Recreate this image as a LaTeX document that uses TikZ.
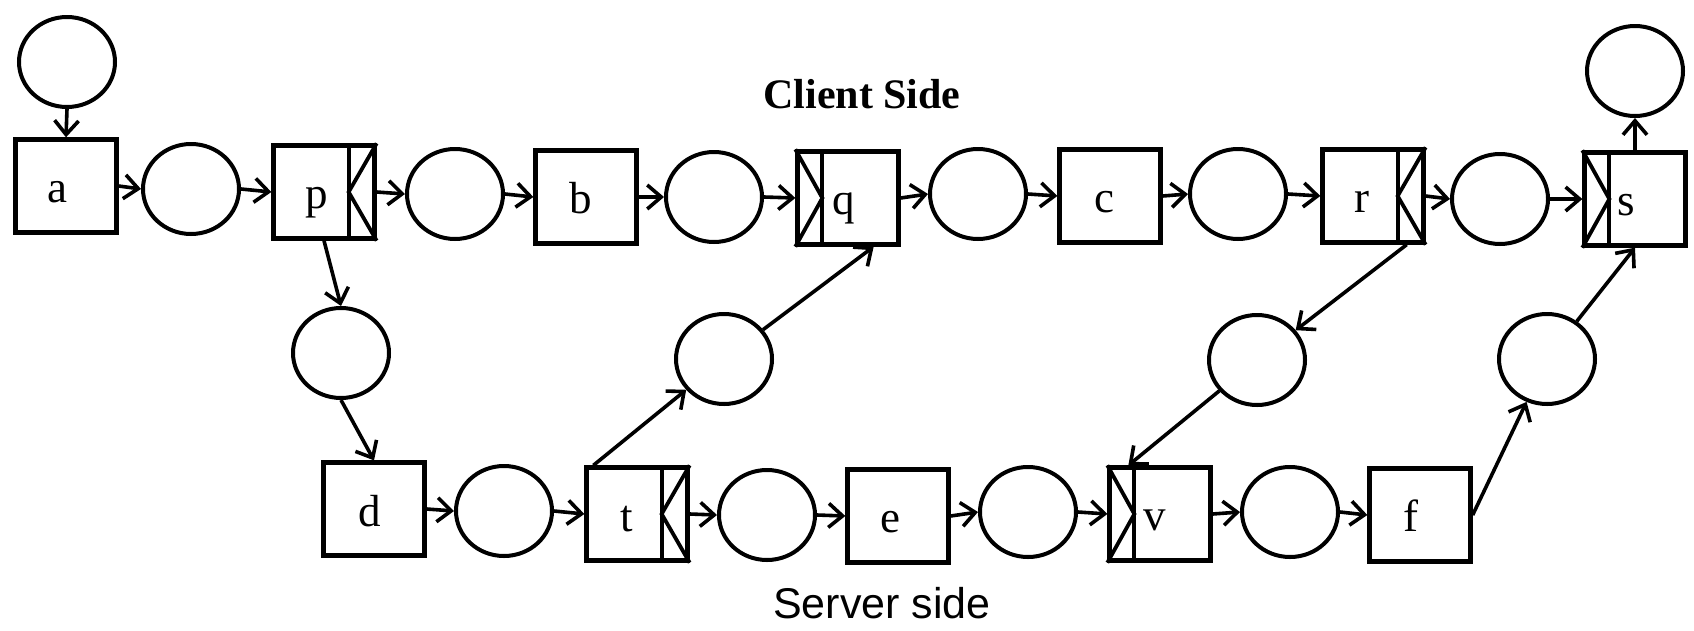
\documentclass[tikz,border=0pt]{standalone}
\usepackage{fontspec}
\setmainfont{Liberation Serif}
\newfontfamily\sansf{Liberation Sans}
\usetikzlibrary{arrows.meta,shapes.geometric,calc}
\begin{document}
\begin{tikzpicture}[x=1pt,y=-1pt,
  place/.style={draw,ellipse,line width=4pt,minimum width=96pt,minimum height=90pt,inner sep=0pt},
  trans/.style={draw,rectangle,line width=4.3pt,minimum width=101pt,minimum height=93pt,inner sep=0pt},
  strip/.style={line width=3.8pt},
  lbl/.style={anchor=base,inner sep=0pt,font=\fontsize{45}{50}\selectfont},
  arc/.style={line width=3.6pt,-{Straight Barb[length=14pt,width=24pt]}}]
\useasboundingbox (0,0) rectangle (1694,630);
% places
\node[place] (tl) at (67,62) {};
\node[place] (c1) at (191,189) {};
\node[place] (c2) at (455,194) {};
\node[place] (c3) at (714,197) {};
\node[place] (c4) at (978,194) {};
\node[place] (c5) at (1238,194) {};
\node[place] (c6) at (1500,199) {};
\node[place] (tr) at (1635,71) {};
\node[place] (m1) at (341,353) {};
\node[place] (m2) at (724,359) {};
\node[place] (m3) at (1257,360) {};
\node[place] (m4) at (1547,359) {};
\node[place] (c7) at (504,511) {};
\node[place] (c8) at (767,515) {};
\node[place] (c9) at (1028,512) {};
\node[place] (c10) at (1290,512) {};
% transitions
\node[trans] (a) at (66,186) {};
\node[trans] (p) at (324,192) {};
\node[trans] (b) at (586,197) {};
\node[trans] (q) at (848,198) {};
\node[trans] (c) at (1110,196) {};
\node[trans] (r) at (1373,196) {};
\node[trans] (s) at (1635,199) {};
\node[trans] (d) at (374,509) {};
\node[trans] (t) at (637,514) {};
\node[trans] (e) at (898,516) {};
\node[trans] (v) at (1160,514) {};
\node[trans] (f) at (1420,515) {};
% strips: right side (p, r, t)
\foreach \n in {p,r,t}{
  \draw[strip] ($(\n.north east)+(-28,0)$) -- ($(\n.south east)+(-28,0)$);
  \draw[strip] (\n.north east) -- ($(\n.east)+(-28,0)$) -- (\n.south east);
}
% strips: left side (q, s, v)
\foreach \n in {q,s,v}{
  \draw[strip] ($(\n.north west)+(27,0)$) -- ($(\n.south west)+(27,0)$);
  \draw[strip] (\n.north west) -- ($(\n.west)+(27,0)$) -- (\n.south west);
}
% labels
\node[lbl] (la) at (57,202) {a};
\node[lbl] (lp) at (317,208) {p};
\node[lbl] (lb) at (581,213) {b};
\node[lbl] (lq) at (844,214) {q};
\node[lbl] (lc) at (1104,212) {c};
\node[lbl] (lr) at (1362,212) {r};
\node[lbl] (ls) at (1626,215) {s};
\node[lbl] (ld) at (370,526) {d};
\node[lbl] (lt) at (627,531) {t};
\node[lbl] (le) at (890,532) {e};
\node[lbl] (lv) at (1155,530) {v};
\node[lbl] (lf) at (1411,531) {f};
\node[anchor=base,inner sep=0pt,font=\fontsize{42}{48}\selectfont\bfseries] (client) at (862,108) {Client Side};
\node[anchor=base,inner sep=0pt,font=\fontsize{43}{50}\selectfont\sansf] (server) at (882,618) {Server side};
% arcs top row
\draw[arc] (tl.south) -- (a.north);
\draw[arc] (a.east) -- (c1.west);
\draw[arc] (c1.east) -- (p.west);
\draw[arc] (p.east) -- (c2.west);
\draw[arc] (c2.east) -- (b.west);
\draw[arc] (b.east) -- (c3.west);
\draw[arc] (c3.east) -- (q.west);
\draw[arc] (q.east) -- (c4.west);
\draw[arc] (c4.east) -- (c.west);
\draw[arc] (c.east) -- (c5.west);
\draw[arc] (c5.east) -- (r.west);
\draw[arc] (r.east) -- (c6.west);
\draw[arc] (c6.east) -- (s.west);
\draw[arc] (s.north) -- (tr.south);
% bottom row
\draw[arc] (d.east) -- (c7.west);
\draw[arc] (c7.east) -- (t.west);
\draw[arc] (t.east) -- (c8.west);
\draw[arc] (c8.east) -- (e.west);
\draw[arc] (e.east) -- (c9.west);
\draw[arc] (c9.east) -- (v.west);
\draw[arc] (v.east) -- (c10.west);
\draw[arc] (c10.east) -- (f.west);
% cross arcs
\draw[arc] (p.south) -- (m1.north);
\draw[arc] (m1.south) -- (d.north);
\coordinate (tup) at ($(t.north west)+(9,0)$);
\draw[arc] (tup) -- (m2);
\coordinate (qdn) at ($(q.south east)+(-27,0)$);
\draw[arc] (m2) -- (qdn);
\coordinate (rdn) at ($(r.south east)+(-19,0)$);
\draw[arc] (rdn) -- (m3);
\coordinate (vup) at ($(v.north west)+(21,0)$);
\draw[arc] (m3) -- (vup);
\draw[arc] (f.east) -- (m4);
\draw[arc] (m4) -- (s.south);
\end{tikzpicture}
\end{document}
